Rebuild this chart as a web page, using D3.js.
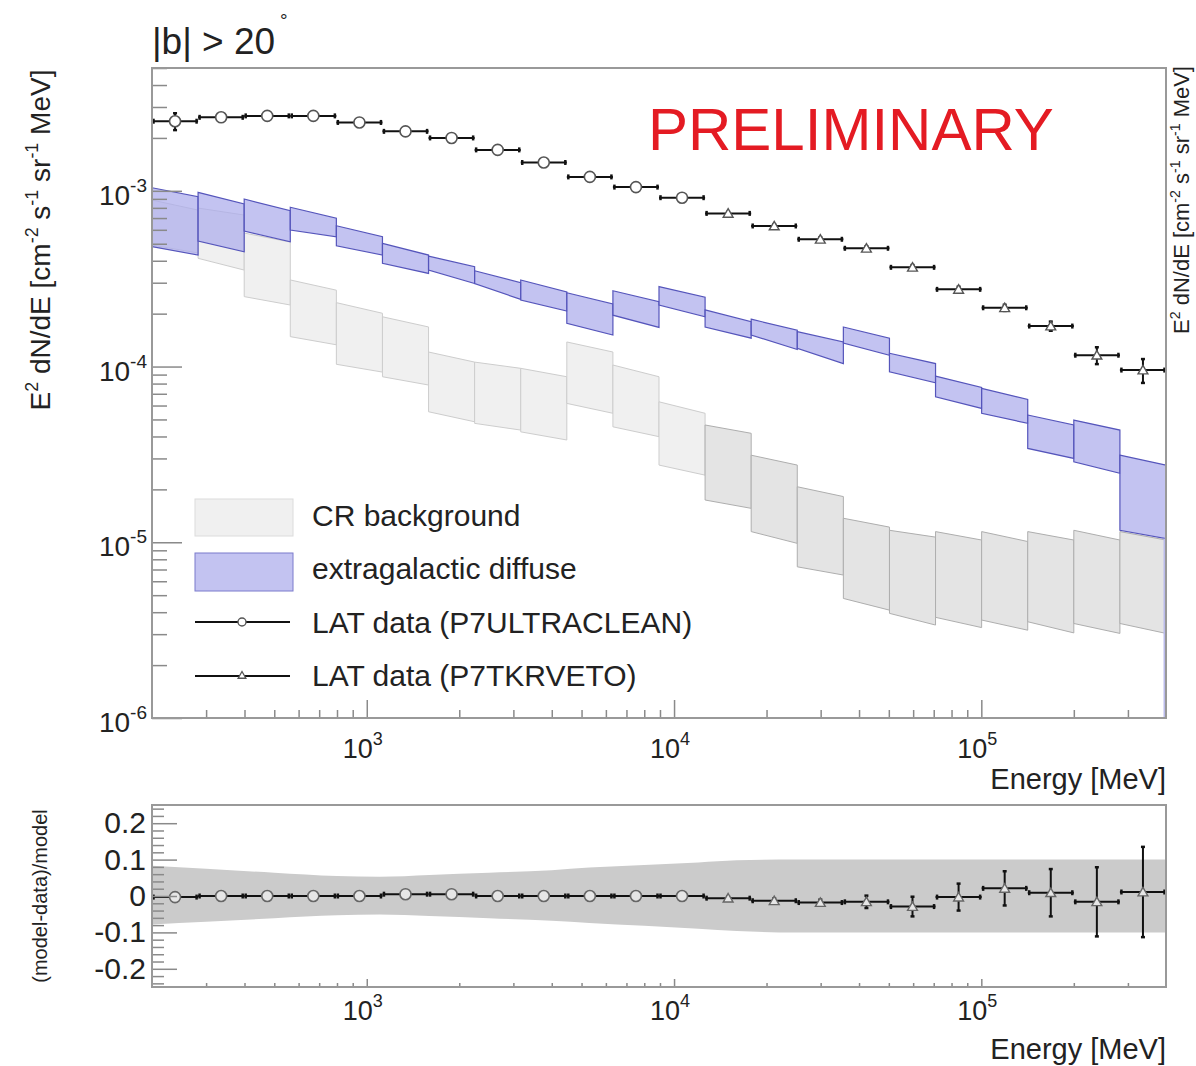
<!DOCTYPE html>
<html><head><meta charset="utf-8">
<script src="https://cdn.jsdelivr.net/npm/d3@7"></script>
<style>
body{margin:0;background:#fff}
text{font-family:"Liberation Sans",Arial,Helvetica,sans-serif;fill:#222}
</style></head>
<body><svg id="c" width="1196" height="1066"></svg>
<script>
// ---------- DATA ----------
const binEdges = [200, 282.5, 399.1, 563.7, 796.2, 1124.7, 1588.7, 2244.0, 3169.8, 4477.4, 6324.6, 8933.7,
  12619, 17825, 25179, 35566, 50238, 70963, 100237, 141589, 200000, 282508, 399052];

// LAT data, E^2 dN/dE (bins 0-11: P7ULTRACLEAN, bins 12-21: P7TKRVETO)
const fluxUltraclean = [2.49e-3, 2.62e-3, 2.67e-3, 2.67e-3, 2.45e-3, 2.18e-3, 2.00e-3, 1.71e-3, 1.45e-3, 1.20e-3, 1.05e-3, 9.14e-4];
const errUltraclean  = [0.11, 0.02, 0.02, 0.02, 0.02, 0.02, 0.02, 0.02, 0.02, 0.02, 0.02, 0.02];
const fluxTkrveto    = [7.44e-4, 6.31e-4, 5.30e-4, 4.71e-4, 3.67e-4, 2.75e-4, 2.16e-4, 1.70e-4, 1.16e-4, 9.55e-5];
const errTkrveto     = [0.02, 0.02, 0.025, 0.025, 0.03, 0.035, 0.04, 0.06, 0.11, 0.155];

// extragalactic diffuse band (per bin: value at left/right edge, upper/lower)
const egbUpLeft  = [1.041e-3, 9.80e-4, 8.98e-4, 8.06e-4, 6.33e-4, 5.02e-4, 4.25e-4, 3.51e-4, 3.11e-4, 2.63e-4, 2.70e-4, 2.85e-4,
  2.10e-4, 1.86e-4, 1.58e-4, 1.68e-4, 1.19e-4, 8.83e-5, 7.51e-5, 5.30e-5, 4.96e-5, 3.13e-5];
const egbUpRight = [9.25e-4, 8.41e-4, 7.70e-4, 6.98e-4, 5.48e-4, 4.31e-4, 3.70e-4, 3.00e-4, 2.66e-4, 2.27e-4, 2.34e-4, 2.48e-4,
  1.80e-4, 1.61e-4, 1.38e-4, 1.45e-4, 1.04e-4, 7.61e-5, 6.50e-5, 4.65e-5, 4.35e-5, 2.75e-5];
const egbLoLeft  = [4.81e-4, 5.18e-4, 5.90e-4, 5.98e-4, 4.87e-4, 3.87e-4, 3.54e-4, 2.97e-4, 2.39e-4, 1.76e-4, 1.96e-4, 2.24e-4,
  1.68e-4, 1.51e-4, 1.27e-4, 1.36e-4, 9.34e-5, 6.73e-5, 5.42e-5, 3.42e-5, 2.87e-5, 1.17e-5];
const egbLoRight = [4.31e-4, 4.50e-4, 5.13e-4, 5.48e-4, 4.31e-4, 3.39e-4, 2.97e-4, 2.41e-4, 2.07e-4, 1.51e-4, 1.67e-4, 1.92e-4,
  1.45e-4, 1.25e-4, 1.04e-4, 1.16e-4, 8.09e-5, 5.78e-5, 4.75e-5, 3.00e-5, 2.47e-5, 1.05e-5];

// CR background band
const crUpLeft  = [8.86e-4, 7.98e-4, 5.75e-4, 3.11e-4, 2.31e-4, 1.92e-4, 1.21e-4, 1.06e-4, 9.77e-5, 1.38e-4, 1.02e-4, 6.30e-5,
  4.65e-5, 3.13e-5, 2.07e-5, 1.37e-5, 1.17e-5, 1.15e-5, 1.15e-5, 1.15e-5, 1.17e-5, 1.15e-5];
const crUpRight = [7.77e-4, 7.28e-4, 5.11e-4, 2.72e-4, 2.01e-4, 1.68e-4, 1.06e-4, 9.77e-5, 8.75e-5, 1.21e-4, 8.75e-5, 5.42e-5,
  4.17e-5, 2.75e-5, 1.82e-5, 1.22e-5, 1.07e-5, 1.03e-5, 1.01e-5, 1.03e-5, 1.03e-5, 1.03e-5];
const crLoLeft  = [4.91e-4, 4.13e-4, 2.50e-4, 1.48e-4, 1.03e-4, 8.75e-5, 5.53e-5, 4.75e-5, 4.25e-5, 6.17e-5, 4.54e-5, 2.75e-5,
  1.74e-5, 1.15e-5, 7.25e-6, 4.79e-6, 3.94e-6, 3.74e-6, 3.61e-6, 3.53e-6, 3.45e-6, 3.45e-6];
const crLoRight = [4.43e-4, 3.54e-4, 2.24e-4, 1.33e-4, 9.30e-5, 7.85e-5, 4.85e-5, 4.35e-5, 3.82e-5, 5.42e-5, 3.99e-5, 2.41e-5,
  1.56e-5, 9.86e-6, 6.51e-6, 4.11e-6, 3.38e-6, 3.27e-6, 3.16e-6, 3.05e-6, 3.03e-6, 3.03e-6];

// residuals (model-data)/model
const resUltraclean    = [-0.003, 0, 0, 0, 0, 0.005, 0.005, 0, 0, 0, 0, 0];
const resErrUltraclean = [0.004, 0.003, 0.003, 0.003, 0.003, 0.003, 0.003, 0.003, 0.003, 0.003, 0.003, 0.003];
const resTkrveto       = [-0.006, -0.013, -0.018, -0.016, -0.029, -0.003, 0.021, 0.009, -0.016, 0.011];
const resErrTkrveto    = [0.004, 0.006, 0.008, 0.017, 0.027, 0.037, 0.047, 0.065, 0.095, 0.124];

// residual systematic band
const resBandE  = [200, 300, 500, 800, 1100, 1600, 2500, 4000, 5300, 8000, 12000, 16000, 25000, 399052];
const resBandUp = [0.083, 0.075, 0.064, 0.055, 0.053, 0.058, 0.064, 0.071, 0.078, 0.085, 0.092, 0.098, 0.1, 0.1];
const resBandLo = [-0.078, -0.071, -0.061, -0.053, -0.051, -0.055, -0.061, -0.068, -0.074, -0.082, -0.09, -0.096, -0.1, -0.1];

// ticks
const yMajorTop = [1e-6, 1e-5, 1e-4, 1e-3];
const yMajorTopExp = ["-6", "-5", "-4", "-3"];
const xMajor = [1e3, 1e4, 1e5];
const xMajorExp = ["3", "4", "5"];
const resMajor = [-0.2, -0.1, 0, 0.1, 0.2];
const resMajorLabels = ["-0.2", "-0.1", "0", "0.1", "0.2"];

// ---------- LAYOUT ----------
const svg = d3.select("#c");
const T = {l:152, r:1166, t:68, b:718};
const B = {l:152, r:1166, t:805, b:987};
const x = d3.scaleLog().domain([binEdges[0], binEdges[binEdges.length-1]]).range([T.l, T.r]);
const y = d3.scaleLog().domain([1e-6, 5e-3]).range([T.b, T.t]);
const yr = d3.scaleLinear().domain([-0.25, 0.25]).range([B.b, B.t]);
const axisCol = "#8a8a8a";

const defs = svg.append("defs");
defs.append("clipPath").attr("id","clipT").append("rect").attr("x",T.l).attr("y",T.t).attr("width",T.r-T.l).attr("height",T.b-T.t);
defs.append("clipPath").attr("id","clipB").append("rect").attr("x",B.l).attr("y",B.t).attr("width",B.r-B.l).attr("height",B.b-B.t);

const bins = binEdges.slice(0,-1).map((e0,i)=>({i, e0, e1: binEdges[i+1], ec: Math.sqrt(e0*binEdges[i+1])}));
const line = d3.line();

// ---------- TOP PANEL ----------
const gT = svg.append("g").attr("clip-path","url(#clipT)");

// CR background
bins.forEach(d=>{
  const dark = d.i >= 12;
  gT.append("path")
    .attr("d", line([[x(d.e0),y(crUpLeft[d.i])],[x(d.e1),y(crUpRight[d.i])],[x(d.e1),y(crLoRight[d.i])],[x(d.e0),y(crLoLeft[d.i])]])+"Z")
    .attr("fill", dark ? "#e4e4e4" : "#f0f0f0")
    .attr("stroke", dark ? "#aeaeae" : "#cdcdcd").attr("stroke-width",1);
});
// extragalactic diffuse
bins.forEach(d=>{
  gT.append("path")
    .attr("d", line([[x(d.e0),y(egbUpLeft[d.i])],[x(d.e1),y(egbUpRight[d.i])],[x(d.e1),y(egbLoRight[d.i])],[x(d.e0),y(egbLoLeft[d.i])]])+"Z")
    .attr("fill", "rgba(172,172,236,0.72)")
    .attr("stroke", "#5555bb").attr("stroke-width",1.2);
});
// blue closing edge at the right
gT.append("line").attr("x1",T.r-1).attr("x2",T.r-1)
  .attr("y1", y(egbLoRight[21])).attr("y2", T.b)
  .attr("stroke","#bcbcec").attr("stroke-width",3);

// axes ticks (top panel)
function cleanAxis(g){ g.select(".domain").remove(); g.selectAll(".tick line").attr("stroke",axisCol).attr("stroke-width",1.5); g.selectAll(".tick text").remove(); }
const yMinorTop = y.ticks().filter(v => yMajorTop.every(m => Math.abs(v/m-1) > 1e-6));
svg.append("g").attr("transform",`translate(${T.l},0)`).call(d3.axisLeft(y).tickValues(yMinorTop).tickSize(-15).tickFormat(()=>"")).call(cleanAxis);
svg.append("g").attr("transform",`translate(${T.l},0)`).call(d3.axisLeft(y).tickValues(yMajorTop).tickSize(-30).tickFormat(()=>"")).call(cleanAxis);
const xMinor = x.ticks().filter(v => xMajor.every(m => Math.abs(v/m-1) > 1e-6) && v > binEdges[0]*1.01);
svg.append("g").attr("transform",`translate(0,${T.b})`).call(d3.axisBottom(x).tickValues(xMinor).tickSize(-8).tickFormat(()=>"")).call(cleanAxis);
svg.append("g").attr("transform",`translate(0,${T.b})`).call(d3.axisBottom(x).tickValues(xMajor).tickSize(-18).tickFormat(()=>"")).call(cleanAxis);

// data: top
const gD = svg.append("g").attr("clip-path","url(#clipT)");
function drawPoints(g, scaleY, bIdx, vals, errs, relative, shape, markerStroke, markerFill){
  vals.forEach((v,k)=>{
    const d = bins[bIdx[k]];
    const yy = scaleY(v), x0 = x(d.e0), x1 = x(d.e1), xc = x(d.ec);
    const eHi = relative ? scaleY(v*(1+errs[k])) : scaleY(v+errs[k]);
    const eLo = relative ? scaleY(v*(1-errs[k])) : scaleY(v-errs[k]);
    g.append("line").attr("x1",x0).attr("x2",x1).attr("y1",yy).attr("y2",yy).attr("stroke","#111").attr("stroke-width",2);
    [x0+1.5,x1-1.5].forEach(xe=> g.append("line").attr("x1",xe).attr("x2",xe).attr("y1",yy-2.5).attr("y2",yy+2.5).attr("stroke","#111").attr("stroke-width",2.5));
    g.append("line").attr("x1",xc).attr("x2",xc).attr("y1",eHi).attr("y2",eLo).attr("stroke","#111").attr("stroke-width",2);
    [eHi,eLo].forEach(ye=> g.append("line").attr("x1",xc-2).attr("x2",xc+2).attr("y1",ye).attr("y2",ye).attr("stroke","#111").attr("stroke-width",2.5));
    if(shape==="circle"){
      g.append("circle").attr("cx",xc).attr("cy",yy).attr("r",5.5).attr("fill",markerFill).attr("stroke",markerStroke).attr("stroke-width",1.6);
    } else {
      g.append("path").attr("d", d3.symbol(d3.symbolTriangle, 42)()).attr("transform",`translate(${xc},${yy+1})`)
        .attr("fill",markerFill).attr("stroke",markerStroke).attr("stroke-width",1.4);
    }
  });
}
const idxUC = fluxUltraclean.map((_,k)=>k);
const idxTV = fluxTkrveto.map((_,k)=>k+fluxUltraclean.length);
drawPoints(gD, y, idxUC, fluxUltraclean, errUltraclean, true, "circle", "#555", "#fff");
drawPoints(gD, y, idxTV, fluxTkrveto, errTkrveto, true, "triangle", "#555", "#fff");

// frame
svg.append("rect").attr("x",T.l).attr("y",T.t).attr("width",T.r-T.l).attr("height",T.b-T.t)
  .attr("fill","none").attr("stroke","#999").attr("stroke-width",2);

// tick labels top panel
yMajorTop.forEach((v,k)=>{
  const t = svg.append("text").attr("x",147).attr("y",y(v)+14).attr("text-anchor","end").attr("font-size",28);
  t.append("tspan").text("10");
  t.append("tspan").attr("font-size",19).attr("dy",-13).text(yMajorTopExp[k]);
});
function xLabels(yBase){
  xMajor.forEach((v,k)=>{
    const t = svg.append("text").attr("x",x(v)-4).attr("y",yBase).attr("text-anchor","middle").attr("font-size",27);
    t.append("tspan").text("10");
    t.append("tspan").attr("font-size",18).attr("dy",-13).text(xMajorExp[k]);
  });
}
xLabels(758);
svg.append("text").attr("x",T.r).attr("y",789).attr("text-anchor","end").attr("font-size",29).text("Energy [MeV]");

// axis titles
function fluxTitle(cx, cy, fs){
  const t = svg.append("text").attr("transform",`translate(${cx},${cy}) rotate(-90)`).attr("text-anchor","middle").attr("font-size",fs);
  const sup = (s)=> t.append("tspan").attr("font-size",fs*0.64).attr("dy",-fs*0.42).text(s);
  const base = (s)=> t.append("tspan").attr("dy",fs*0.42).text(s);
  t.append("tspan").text("E");
  sup("2"); base(" dN/dE [cm"); sup("-2"); base(" s"); sup("-1"); base(" sr"); sup("-1"); base(" MeV]");
}
fluxTitle(50, 240, 28);
fluxTitle(1189, 200, 22);

// title & preliminary
svg.append("text").attr("x",152).attr("y",54).attr("font-size",37).text("|b| > 20");
svg.append("text").attr("x",280).attr("y",27).attr("font-size",19).text("°");
svg.append("text").attr("x",648).attr("y",150).attr("font-size",60).style("fill","#e41b23").text("PRELIMINARY");

// legend
svg.append("rect").attr("x",195).attr("y",499).attr("width",98).attr("height",37).attr("fill","#f0f0f0").attr("stroke","#dcdcdc");
svg.append("rect").attr("x",195).attr("y",553).attr("width",98).attr("height",38).attr("fill","rgba(172,172,236,0.72)").attr("stroke","#7b7bcc");
svg.append("text").attr("x",312).attr("y",526).attr("font-size",30).text("CR background");
svg.append("text").attr("x",312).attr("y",579).attr("font-size",30).text("extragalactic diffuse");
svg.append("line").attr("x1",195).attr("x2",290).attr("y1",622).attr("y2",622).attr("stroke","#111").attr("stroke-width",2);
svg.append("circle").attr("cx",242).attr("cy",622).attr("r",4).attr("fill","#fff").attr("stroke","#555").attr("stroke-width",1.4);
svg.append("text").attr("x",312).attr("y",633).attr("font-size",30).text("LAT data (P7ULTRACLEAN)");
svg.append("line").attr("x1",195).attr("x2",290).attr("y1",676).attr("y2",676).attr("stroke","#111").attr("stroke-width",2);
svg.append("path").attr("d",d3.symbol(d3.symbolTriangle,26)()).attr("transform","translate(242,676)").attr("fill","#fff").attr("stroke","#555").attr("stroke-width",1.3);
svg.append("text").attr("x",312).attr("y",686).attr("font-size",30).text("LAT data (P7TKRVETO)");

// ---------- BOTTOM PANEL ----------
const gB = svg.append("g").attr("clip-path","url(#clipB)");
const bandData = resBandE.map((e,k)=>({e, up: resBandUp[k], lo: resBandLo[k]}));
gB.append("path").datum(bandData)
  .attr("d", d3.area().x(d=>x(d.e)).y0(d=>yr(d.lo)).y1(d=>yr(d.up)).curve(d3.curveMonotoneX))
  .attr("fill","#cbcbcb");

const resMinor = yr.ticks(25).filter(v => resMajor.every(m => Math.abs(v-m) > 1e-6));
svg.append("g").attr("transform",`translate(${B.l},0)`).call(d3.axisLeft(yr).tickValues(resMinor).tickSize(-12).tickFormat(()=>"")).call(cleanAxis);
svg.append("g").attr("transform",`translate(${B.l},0)`).call(d3.axisLeft(yr).tickValues(resMajor).tickSize(-25).tickFormat(()=>"")).call(cleanAxis);
svg.append("g").attr("transform",`translate(0,${B.b})`).call(d3.axisBottom(x).tickValues(xMinor).tickSize(-4).tickFormat(()=>"")).call(cleanAxis);
svg.append("g").attr("transform",`translate(0,${B.b})`).call(d3.axisBottom(x).tickValues(xMajor).tickSize(-8).tickFormat(()=>"")).call(cleanAxis);

drawPoints(gB, yr, idxUC, resUltraclean, resErrUltraclean, false, "circle", "#666", "#e6e6e6");
drawPoints(gB, yr, idxTV, resTkrveto, resErrTkrveto, false, "triangle", "#666", "#e6e6e6");

svg.append("rect").attr("x",B.l).attr("y",B.t).attr("width",B.r-B.l).attr("height",B.b-B.t)
  .attr("fill","none").attr("stroke","#999").attr("stroke-width",2);

resMajor.forEach((v,k)=>{
  svg.append("text").attr("x",146).attr("y",yr(v)+10).attr("text-anchor","end").attr("font-size",30).text(resMajorLabels[k]);
});
xLabels(1020);
svg.append("text").attr("x",B.r).attr("y",1059).attr("text-anchor","end").attr("font-size",29).text("Energy [MeV]");
svg.append("text").attr("transform",`translate(47,896) rotate(-90)`).attr("text-anchor","middle").attr("font-size",20).text("(model-data)/model");
</script>
</body></html>
